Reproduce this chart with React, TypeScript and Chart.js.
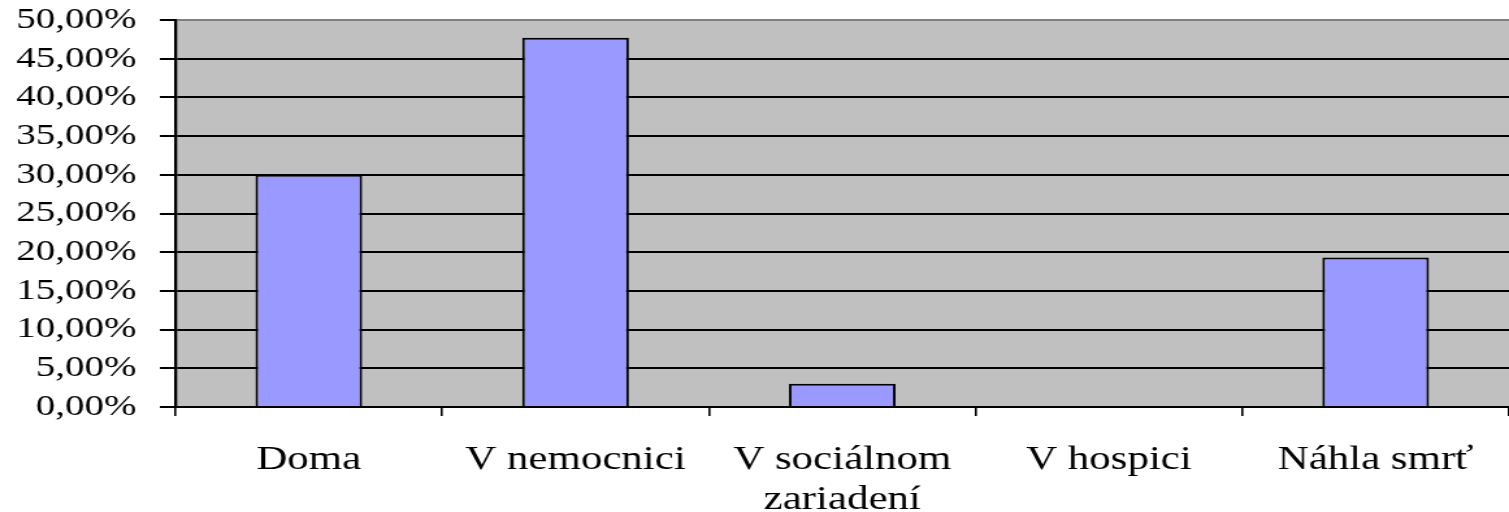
import React, { useEffect, useRef } from "react";
import { Chart, registerables } from "chart.js";

Chart.register(...registerables);

const categories: (string | string[])[] = [
  "Doma",
  "V nemocnici",
  ["V sociálnom", "zariadení"],
  "V hospici",
  "Náhla smrť",
];
const values: number[] = [30.0, 47.7, 3.0, 0.0, 19.3];
const yMin = 0;
const yMax = 50;
const yStep = 5;

const formatTick = (v: number) => v.toFixed(2).replace(".", ",") + "%";

// The reference image is a horizontally stretched chart: draw at a narrower
// internal width and let CSS stretch the canvas to the full display width.
const DISPLAY_W = 1509;
const DISPLAY_H = 512;
const STRETCH = 1.3;
const INNER_W = Math.round(DISPLAY_W / STRETCH);

const plotBg = {
  id: "plotBg",
  beforeDraw(chart: any) {
    const { ctx, chartArea } = chart;
    ctx.save();
    ctx.fillStyle = "#C0C0C0";
    ctx.fillRect(chartArea.left, chartArea.top, chartArea.right - chartArea.left, chartArea.bottom - chartArea.top);
    ctx.restore();
  },
};

export default function App() {
  const ref = useRef<HTMLCanvasElement | null>(null);
  useEffect(() => {
    if (!ref.current) return;
    const chart = new Chart(ref.current, {
      type: "bar",
      data: {
        labels: categories,
        datasets: [
          {
            data: values,
            backgroundColor: "#9999FF",
            borderColor: "#000000",
            borderWidth: 2,
            barPercentage: 0.4,
            categoryPercentage: 1,
          },
        ],
      },
      options: {
        animation: false,
        responsive: false,
        devicePixelRatio: 1,
        layout: { padding: { top: 0, right: 0, left: 0, bottom: 0 } },
        plugins: { legend: { display: false }, tooltip: { enabled: false } },
        scales: {
          x: {
            offset: true,
            grid: {
              offset: true,
              drawOnChartArea: false,
              drawTicks: true,
              tickLength: 9,
              tickColor: "#000000",
              lineWidth: 1.6,
            },
            border: { display: true, color: "#000000", width: 2 },
            ticks: {
              color: "#000000",
              padding: 25,
              maxRotation: 0,
              autoSkip: false,
              font: { family: "'Liberation Serif', 'Times New Roman', serif", size: 33, lineHeight: 1.2 },
            },
            afterFit(scale: any) {
              scale.height = 105;
              scale.paddingLeft = 0;
              scale.paddingRight = 0;
            },
          },
          y: {
            min: yMin,
            max: yMax,
            grid: {
              color: (c: any) => (c.tick && c.tick.value === yMax ? "#808080" : "#000000"),
              tickColor: "#000000",
              lineWidth: 2,
              tickLength: 12,
            },
            border: { display: true, color: "#000000", width: 2.3 },
            ticks: {
              stepSize: yStep,
              autoSkip: false,
              color: "#000000",
              padding: 18,
              callback: (v: any) => formatTick(Number(v)),
              font: { family: "'Liberation Serif', 'Times New Roman', serif", size: 30 },
            },
            afterFit(scale: any) {
              scale.width = 135;
              scale.paddingTop = 20;
              scale.paddingBottom = 0;
            },
          },
        },
      },
      plugins: [plotBg],
    });
    return () => chart.destroy();
  }, []);
  return (
    <div style={{ position: "fixed", left: 0, top: 0, width: DISPLAY_W, height: DISPLAY_H, background: "#fff" }}>
      <canvas
        ref={ref}
        width={INNER_W}
        height={DISPLAY_H}
        style={{ width: DISPLAY_W + "px", height: DISPLAY_H + "px", display: "block" }}
      />
    </div>
  );
}
